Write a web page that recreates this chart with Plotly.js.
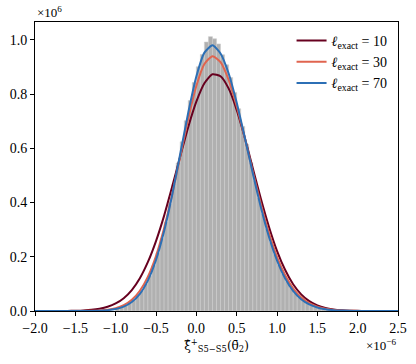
<!DOCTYPE html>
<html>
<head>
<meta charset="utf-8">
<script src="https://cdn.plot.ly/plotly-3.0.1.min.js"></script>
<style>html,body{margin:0;padding:0;background:#fff;}#chart{width:416px;height:364px;}</style>
</head>
<body>
<div id="chart"></div>
<script>
// curve x grid (units of 1e-6)
const curveX = [-2.0,-1.9,-1.8,-1.7,-1.6,-1.5,-1.4,-1.3,-1.2,-1.1,-1.0,-0.9,-0.8,-0.7,-0.6,-0.5,-0.4,-0.3,-0.2,-0.1,0.0,0.1,0.2,0.3,0.4,0.5,0.6,0.7,0.8,0.9,1.0,1.1,1.2,1.3,1.4,1.5,1.6,1.7,1.8,1.9,2.0,2.1,2.2,2.3,2.4,2.5];
// ell_exact = 10 (units of 1e6)
const curve10 = [0,0,0.0001,0.0002,0.0004,0.0010,0.0021,0.0042,0.0083,0.0155,0.0277,0.0474,0.0774,0.121,0.181,0.258,0.351,0.458,0.570,0.679,0.772,0.840,0.873,0.866,0.821,0.742,0.640,0.527,0.414,0.311,0.222,0.152,0.0988,0.0614,0.0364,0.0206,0.0111,0.0057,0.0028,0.0013,0.0006,0.0003,0.0001,0,0,0];
// ell_exact = 30
const curve30 = [0,0,0,0,0,0.0001,0.0003,0.0008,0.0021,0.0048,0.0104,0.0214,0.0413,0.0748,0.127,0.203,0.305,0.430,0.570,0.710,0.830,0.911,0.940,0.918,0.853,0.756,0.639,0.514,0.394,0.288,0.200,0.133,0.084,0.0506,0.029,0.0159,0.0083,0.0041,0.0019,0.0009,0.0004,0.0002,0.0001,0,0,0];
// ell_exact = 70
const curve70 = [0,0,0,0,0,0,0.0002,0.0004,0.0012,0.0031,0.0073,0.016,0.033,0.063,0.113,0.188,0.294,0.427,0.579,0.732,0.865,0.953,0.980,0.950,0.877,0.769,0.641,0.508,0.383,0.274,0.187,0.121,0.0746,0.0437,0.0243,0.0129,0.0065,0.0031,0.0014,0.0006,0.0003,0.0001,0,0,0,0];

// histogram bin centres and heights
const binX = [-0.975,-0.925,-0.875,-0.825,-0.775,-0.725,-0.675,-0.625,-0.575,-0.525,-0.475,-0.425,-0.375,-0.325,-0.275,-0.225,-0.175,-0.125,-0.075,-0.025,0.025,0.075,0.125,0.175,0.225,0.275,0.325,0.375,0.425,0.475,0.525,0.575,0.625,0.675,0.725,0.775,0.825,0.875,0.925,0.975,1.025,1.075,1.125,1.175,1.225,1.275,1.325,1.375,1.425,1.475,1.525,1.575,1.625,1.675];
const binH = [0.009,0.013,0.019,0.028,0.039,0.055,0.074,0.099,0.130,0.169,0.214,0.267,0.328,0.395,0.468,0.546,0.624,0.702,0.776,0.843,0.901,0.946,0.992,1.012,1.004,0.985,0.945,0.908,0.861,0.806,0.746,0.681,0.614,0.547,0.481,0.417,0.358,0.303,0.253,0.209,0.170,0.137,0.109,0.0855,0.066,0.051,0.038,0.0285,0.021,0.015,0.011,0.0078,0.0054,0.0037];

const names = ['<i>ℓ</i><sub>exact</sub> = 10','<i>ℓ</i><sub>exact</sub> = 30','<i>ℓ</i><sub>exact</sub> = 70'];
const colors = ['#67001f','#e0644f','#2c6fb5'];
const xTicks = [-2.0,-1.5,-1.0,-0.5,0.0,0.5,1.0,1.5,2.0,2.5];
const yTicks = [0.0,0.2,0.4,0.6,0.8,1.0];

const traces = [{
  type:'bar', x:binX, y:binH, width:0.05, showlegend:false,
  marker:{color:'#b0b0b0', line:{color:'#cdcdcd', width:0.6}}
}];
[curve10,curve30,curve70].forEach((c,i)=>{
  traces.push({type:'scatter', mode:'lines', x:curveX, y:c, name:names[i],
    line:{color:colors[i], width:2, shape:'spline', smoothing:0.6}});
});

const fam = 'Liberation Serif';
const font = {family:fam, size:14, color:'#000'};
const layout = {
  width:416, height:364,
  margin:{l:35, r:18, t:22, b:53},
  paper_bgcolor:'#fff', plot_bgcolor:'#fff',
  font:font, bargap:0,
  xaxis:{range:[-2.0,2.5], tickvals:xTicks, ticktext:xTicks.map(v=>v.toFixed(1).replace('-','−')),
    showgrid:false, zeroline:false, showline:true, mirror:true, linecolor:'#000', linewidth:1,
    ticks:'outside', ticklen:4, tickcolor:'#000', tickfont:font,
    title:{text:'ξ̂<sup>+</sup><sub>S5−S5</sub>(θ̄<sub>2</sub>)', font:{family:'DejaVu Serif', size:12, color:'#000'}, standoff:6}},
  yaxis:{range:[0,1.066], tickvals:yTicks, ticktext:yTicks.map(v=>v.toFixed(1)),
    showgrid:false, zeroline:false, showline:true, mirror:true, linecolor:'#000', linewidth:1,
    ticks:'outside', ticklen:4, tickcolor:'#000', tickfont:font},
  legend:{x:0.985, y:0.99, xanchor:'right', yanchor:'top', bgcolor:'rgba(255,255,255,0.8)',
    borderwidth:0, font:{family:fam, size:14, color:'#000'}, tracegroupgap:0},
  annotations:[
    {xref:'paper', yref:'paper', x:0, y:1, xanchor:'left', yanchor:'bottom', showarrow:false,
     text:'×10<sup>6</sup>', font:{family:fam, size:13, color:'#000'}},
    {xref:'paper', yref:'paper', x:1, y:0, xanchor:'right', yanchor:'top', yshift:-24, showarrow:false,
     text:'×10<sup>−6</sup>', font:{family:fam, size:13, color:'#000'}}
  ]
};
Plotly.newPlot('chart', traces, layout, {displayModeBar:false, staticPlot:true});
</script>
</body>
</html>
